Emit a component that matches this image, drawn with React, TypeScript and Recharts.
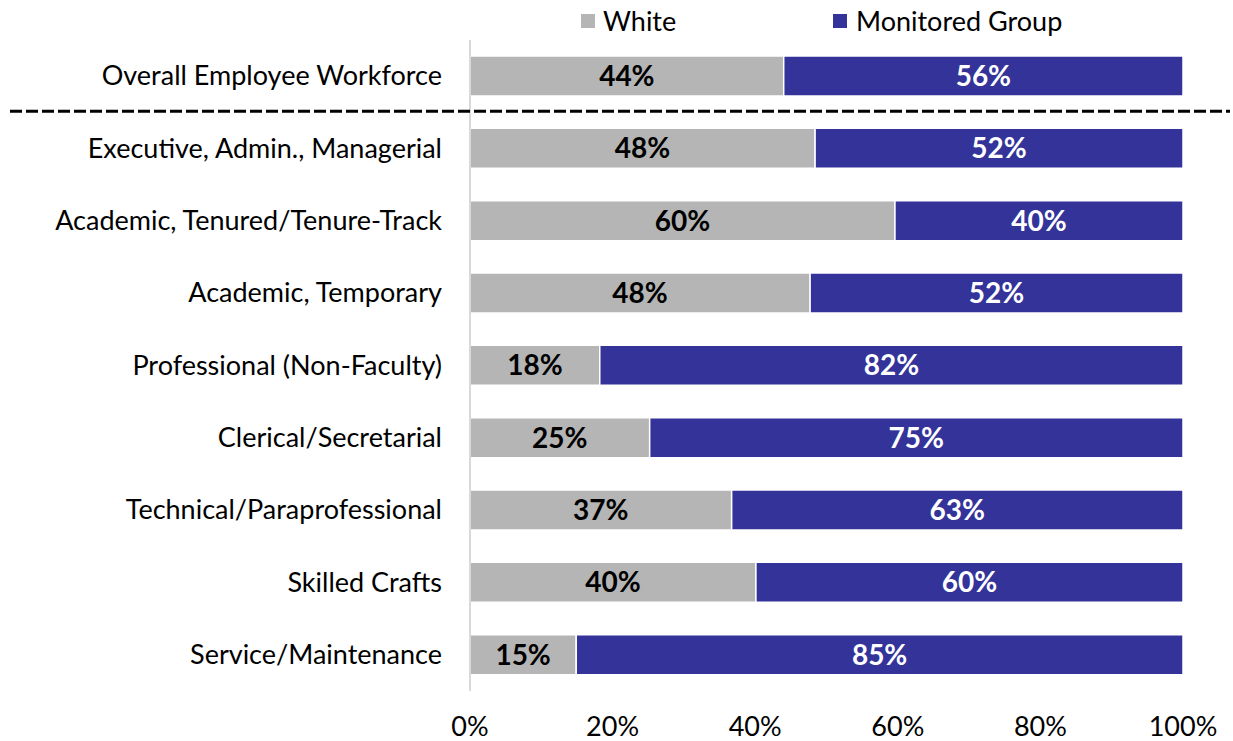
import React from "react";
import { BarChart, Bar, XAxis, YAxis, LabelList, Legend } from "recharts";

const categories = [
  "Overall Employee Workforce",
  "Executive, Admin., Managerial",
  "Academic, Tenured/Tenure-Track",
  "Academic, Temporary",
  "Professional (Non-Faculty)",
  "Clerical/Secretarial",
  "Technical/Paraprofessional",
  "Skilled Crafts",
  "Service/Maintenance",
];
const whiteValues = [44, 48.4, 59.6, 47.7, 18.2, 25.2, 36.7, 40.1, 14.9];
const monitoredValues = [56, 51.6, 40.4, 52.3, 81.8, 74.8, 63.3, 59.9, 85.1];
const xTicks = [0, 20, 40, 60, 80, 100];

const data = categories.map((c, i) => ({
  name: c,
  white: whiteValues[i],
  monitored: monitoredValues[i],
}));

const FONT = "Lato, 'Open Sans', sans-serif";
const GRAY = "#b4b5b4";
const BLUE = "#333399";

const YTick = (props: any) => {
  const { x, y, payload, index } = props;
  return (
    <g>
      <text x={x} y={y} dy={9} textAnchor="end" fill="#000" fontSize={27} fontFamily={FONT}>
        {payload.value}
      </text>
      {index === 0 && (
        <line x1={10} x2={1230} y1={y + 35} y2={y + 35} stroke="#000" strokeWidth={3} strokeDasharray="12 4" />
      )}
    </g>
  );
};

const LegendContent = () => (
  <div style={{ position: "relative", height: 40, fontFamily: FONT, fontSize: 27, lineHeight: "27px" }}>
    <div style={{ position: "absolute", left: 581, top: 14, width: 14, height: 14, background: GRAY }} />
    <div style={{ position: "absolute", left: 603, top: 7, color: "#000" }}>White</div>
    <div style={{ position: "absolute", left: 833, top: 14, width: 14, height: 14, background: BLUE }} />
    <div style={{ position: "absolute", left: 856, top: 7, color: "#000" }}>Monitored Group</div>
  </div>
);

const fmt = (v: any) => `${Math.round(Number(v))}%`;

export default function App() {
  return (
    <div style={{ position: "absolute", left: 0, top: 0, width: 1233, height: 741, background: "#fff" }}>
      <BarChart
        width={1233}
        height={741}
        data={data}
        layout="vertical"
        margin={{ top: 0, right: 50, bottom: 20, left: 0 }}
        barSize={40}
      >
        <XAxis
          type="number"
          domain={[0, 100]}
          ticks={xTicks}
          tickFormatter={(v) => `${v}%`}
          axisLine={false}
          tickLine={false}
          tickMargin={20}
          tick={{ fill: "#000", fontSize: 27, fontFamily: FONT }}
          allowDataOverflow
        />
        <YAxis
          type="category"
          dataKey="name"
          width={470}
          tickLine={false}
          tickSize={0}
          tickMargin={28}
          axisLine={{ stroke: "#d9d9d9", strokeWidth: 2 }}
          tick={<YTick />}
          interval={0}
        />
        <Legend verticalAlign="top" align="left" content={<LegendContent />} wrapperStyle={{ top: 0, left: 0, width: 1233, height: 40 }} />
        <Bar dataKey="white" stackId="a" fill={GRAY} stroke="#fff" strokeWidth={1.5} isAnimationActive={false}>
          <LabelList dataKey="white" position="center" formatter={fmt} fill="#000" fontSize={28} fontWeight="bold" fontFamily={FONT} />
        </Bar>
        <Bar dataKey="monitored" stackId="a" fill={BLUE} stroke="#fff" strokeWidth={1.5} isAnimationActive={false}>
          <LabelList dataKey="monitored" position="center" formatter={fmt} fill="#fff" fontSize={28} fontWeight="bold" fontFamily={FONT} />
        </Bar>
      </BarChart>
    </div>
  );
}
